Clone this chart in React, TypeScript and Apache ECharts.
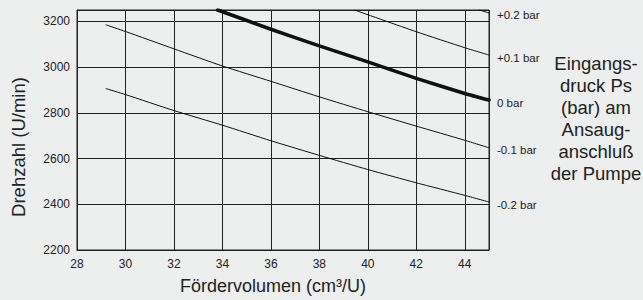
import React, { useEffect, useRef } from "react";
import * as echarts from "echarts";

// Förder volume (cm³/U) vs. speed (U/min) per inlet pressure
const xM02 = [29.2, 30, 32, 34, 36, 38, 40, 42, 44, 45];
const yM02 = [2906, 2880, 2810, 2746, 2678, 2614, 2552, 2494, 2439, 2410];

const xM01 = [29.2, 30, 32, 34, 36, 38, 40, 42, 44, 45];
const yM01 = [3185, 3156, 3080, 3005, 2938, 2870, 2805, 2742, 2680, 2647];

const x0 = [33.8, 36, 38, 40, 42, 44, 45];
const y0 = [3250, 3166, 3093, 3023, 2951, 2885, 2856];

const xP01 = [39.45, 42, 44, 45];
const yP01 = [3250, 3155, 3085, 3053];

const xP02 = [44.6, 45];
const yP02 = [3250, 3237];

const seriesNames = ["-0.2 bar", "-0.1 bar", "0 bar", "+0.1 bar", "+0.2 bar"];

const xTitle = "Fördervolumen (cm³/U)";
const yTitle = "Drehzahl (U/min)";
const sideNote = "Eingangs-\ndruck Ps\n(bar) am\nAnsaug-\nanschluß\nder Pumpe";

const FONT = "Liberation Sans, Arial, Helvetica, sans-serif";

function zip(xs: number[], ys: number[]) {
  return xs.map((x, i) => [x, ys[i]]);
}

export default function App() {
  const ref = useRef<HTMLDivElement>(null);
  useEffect(() => {
    document.body.style.margin = "0";
    const chart = echarts.init(ref.current!, undefined, { renderer: "svg" });
    const sets = [
      zip(xM02, yM02),
      zip(xM01, yM01),
      zip(x0, y0),
      zip(xP01, yP01),
      zip(xP02, yP02),
    ];
    chart.setOption({
      animation: false,
      backgroundColor: "#edeeee",
      textStyle: { fontFamily: FONT },
      grid: {
        left: 77,
        top: 10,
        right: 154,
        bottom: 50,
        show: true,
        borderColor: "#222",
        borderWidth: 1,
        backgroundColor: "transparent",
      },
      xAxis: {
        type: "value",
        min: 28,
        max: 45,
        interval: 2,
        axisLine: { show: true, lineStyle: { color: "#222", width: 1 } },
        axisTick: { show: false },
        axisLabel: {
          color: "#222",
          fontSize: 12,
          margin: 8,
          showMaxLabel: false,
          fontFamily: FONT,
          formatter: (v: number) => String(v),
        },
        splitLine: { show: true, lineStyle: { color: "#222", width: 1 } },
      },
      yAxis: {
        type: "value",
        min: 2200,
        max: 3250,
        interval: 200,
        axisLine: { show: true, lineStyle: { color: "#222", width: 1 } },
        axisTick: { show: false },
        axisLabel: {
          color: "#222",
          fontSize: 12,
          margin: 7,
          showMaxLabel: false,
          fontFamily: FONT,
          formatter: (v: number) => String(v),
        },
        splitLine: { show: true, lineStyle: { color: "#222", width: 1 } },
      },
      series: sets.map((d, i) => ({
        type: "line",
        name: seriesNames[i],
        data: d,
        symbol: "none",
        smooth: 0.2,
        clip: true,
        lineStyle: {
          color: "#111",
          width: i === 2 ? 3.6 : 1,
          cap: "round",
        },
        endLabel: {
          show: true,
          formatter: seriesNames[i],
          distance: 8,
          offset: [0, 2.5],
          color: "#222",
          fontSize: 11.5,
          fontFamily: FONT,
        },
        emphasis: { disabled: true },
      })),
      graphic: [
        {
          type: "text",
          x: 273,
          y: 286,
          style: {
            text: xTitle,
            fill: "#222",
            font: `18px ${FONT}`,
            textAlign: "center",
            textVerticalAlign: "middle",
          },
        },
        {
          type: "text",
          x: 18,
          y: 147,
          rotation: Math.PI / 2,
          style: {
            text: yTitle,
            fill: "#222",
            font: `18.5px ${FONT}`,
            textAlign: "center",
            textVerticalAlign: "middle",
          },
        },
        {
          type: "text",
          x: 596,
          y: 118,
          style: {
            text: sideNote,
            fill: "#222",
            font: `18.5px ${FONT}`,
            lineHeight: 22,
            textAlign: "center",
            textVerticalAlign: "middle",
          },
        },
      ],
    });
    return () => chart.dispose();
  }, []);
  return (
    <div
      ref={ref}
      style={{ position: "absolute", left: 0, top: 0, width: 643, height: 300 }}
    />
  );
}
